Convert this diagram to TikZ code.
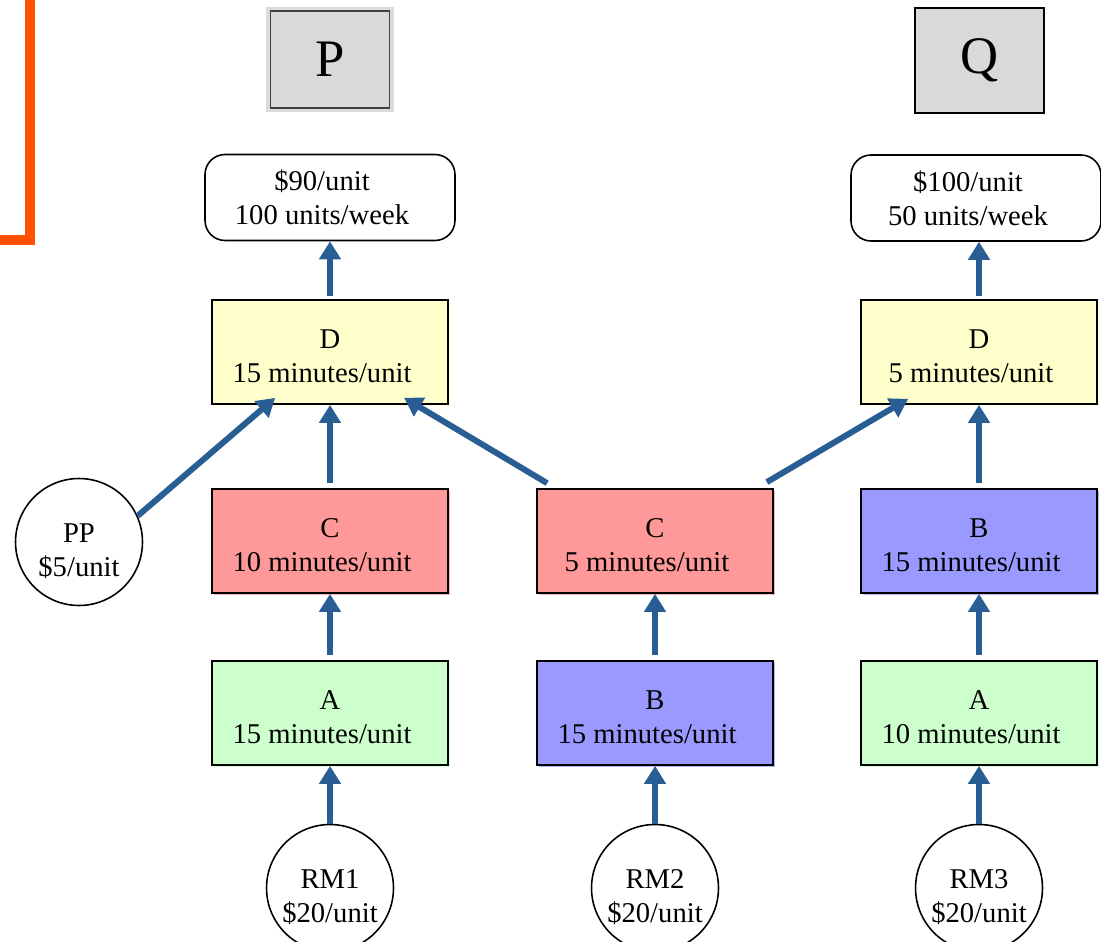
\documentclass[tikz,border=0pt]{standalone}
\usepackage{fontspec}
\setmainfont{Liberation Serif}
\usepackage{xcolor}
\usetikzlibrary{arrows.meta,shapes,calc,positioning,shadows}
\definecolor{flowblue}{RGB}{41,94,148}
\definecolor{markorange}{RGB}{255,80,0}
\definecolor{boxgray}{RGB}{217,217,217}
\definecolor{ylw}{RGB}{255,255,204}
\definecolor{redbox}{RGB}{255,153,153}
\definecolor{bluebox}{RGB}{153,153,255}
\definecolor{greenbox}{RGB}{204,255,204}
\newcommand{\tailgap}{\hspace*{0.32cm}}
\newcommand{\topgap}{\rule{0pt}{1.3em}}
\newcommand{\stagegap}{\rule{0pt}{0.97em}}

\tikzset{
  every node/.style={font=\fontsize{16.3}{19.5}\selectfont},
  stage/.style={draw, line width=1pt, minimum width=4.72cm, minimum height=2.08cm,
    align=center, inner sep=0pt},
  rim/.style={general shadow={fill=#1!75, shadow xshift=1.3pt, shadow yshift=-1.3pt}},
  market/.style={draw, line width=0.9pt, rounded corners=0.4cm, minimum width=5cm,
    minimum height=1.72cm, align=center, inner sep=0pt},
  source/.style={circle, draw, line width=0.9pt, minimum size=2.54cm, inner sep=0pt,
    align=center},
  prodbox/.style={draw=black!75, line width=0.7pt, fill=boxgray, minimum width=2.38cm,
    minimum height=1.94cm, font=\fontsize{30}{36}\selectfont},
  flow/.style={line width=0.12cm, draw=flowblue,
    -{Triangle[length=0.36cm,width=0.42cm]}}
}

\begin{document}
\begin{tikzpicture}[x=0.02cm, y=-0.02cm]
	\useasboundingbox (0,0) rectangle (1101,942);
	% orange mark at the left edge
	\draw [line width=0.2cm, markorange] (30,-10) -- (30,240) -- (-10,240);
	% products
	\node [prodbox, preaction={draw=black!14, line width=0.18cm}] (P) at (330,59.5) {P};
	\node [prodbox, draw=black, minimum width=2.58cm, minimum height=2.1cm] (Q) at (979.5,60.5) {Q};
	% markets
	\node [market] (mktP) at (330,197.5) {\$90/unit\tailgap\\100 units/week\tailgap};
	\node [market] (mktQ) at (976,198) {\$100/unit\tailgap\\50 units/week\tailgap};
	% stages
	\node [stage, fill=ylw, rim=ylw] (dP) at (330,352) {\stagegap D\\15 minutes/unit\tailgap};
	\node [stage, fill=ylw, rim=ylw] (dQ) at (979,352) {\stagegap D\\5 minutes/unit\tailgap};
	\node [stage, fill=redbox, rim=redbox] (cL) at (330,541) {\stagegap C\\10 minutes/unit\tailgap};
	\node [stage, fill=redbox, rim=redbox] (cM) at (655,541) {\stagegap C\\5 minutes/unit\tailgap};
	\node [stage, fill=bluebox, rim=bluebox] (bR) at (979,541) {\stagegap B\\15 minutes/unit\tailgap};
	\node [stage, fill=greenbox, rim=greenbox] (aL) at (330,713) {\stagegap A\\15 minutes/unit\tailgap};
	\node [stage, fill=bluebox, rim=bluebox] (bM) at (655,713) {\stagegap B\\15 minutes/unit\tailgap};
	\node [stage, fill=greenbox, rim=greenbox] (aR) at (979,713) {\stagegap A\\10 minutes/unit\tailgap};
	% purchased part and raw materials
	\node [source] (pp) at (79,542) {\topgap PP\\\$5/unit};
	\node [source] (rm1) at (330,888) {\topgap RM1\\\$20/unit};
	\node [source] (rm2) at (655,888) {\topgap RM2\\\$20/unit};
	\node [source] (rm3) at (979,888) {\topgap RM3\\\$20/unit};
	% flows, product P
	\draw [flow] (rm1) -- (aL);
	\draw [flow] ([yshift=0.1cm]aL.north) -- (cL.south);
	\draw [flow] ([yshift=0.1cm]cL.north) -- (dP.south);
	\draw [flow] ([yshift=0.06cm]dP.north) -- (dP.north |- mktP.south);
	\draw [flow] (pp.24) -- ([xshift=1.28cm,yshift=0.14cm]dP.south west);
	% flows, shared C
	\draw [flow] (rm2) -- (bM);
	\draw [flow] ([yshift=0.1cm]bM.north) -- (cM.south);
	\draw [flow] ([xshift=0.22cm,yshift=0.1cm]cM.north west) -- ([xshift=3.86cm,yshift=0.14cm]dP.south west);
	\draw [flow] ([xshift=-0.14cm,yshift=0.12cm]cM.north east) -- ([xshift=0.96cm,yshift=0.12cm]dQ.south west);
	% flows, product Q
	\draw [flow] (rm3) -- (aR);
	\draw [flow] ([yshift=0.1cm]aR.north) -- (bR.south);
	\draw [flow] ([yshift=0.1cm]bR.north) -- (dQ.south);
	\draw [flow] ([yshift=0.06cm]dQ.north) -- (dQ.north |- mktQ.south);
\end{tikzpicture}
\end{document}
